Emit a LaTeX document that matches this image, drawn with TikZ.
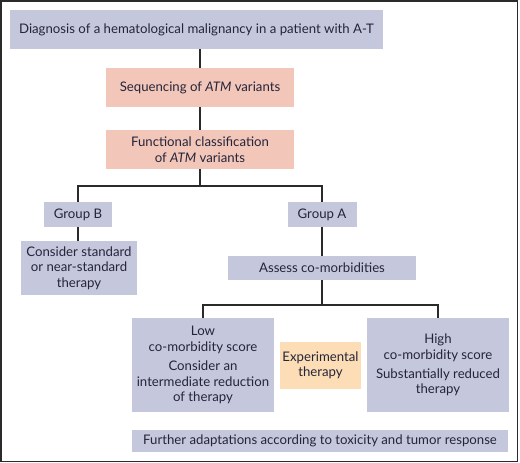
\documentclass[tikz,border=0pt]{standalone}
\usepackage{fontspec}
\setmainfont{Lato}
\definecolor{bluebox}{HTML}{C5C7DD}
\definecolor{salmon}{HTML}{F2C6B9}
\definecolor{orangebox}{HTML}{FCDDB6}
\definecolor{txt}{HTML}{25253A}
\definecolor{linec}{HTML}{2A2A2A}
\tikzset{
  x=1pt,y=-1pt,
  bx/.style={fill=bluebox,draw=none,inner sep=0pt,align=center,text=txt,font=\fontsize{13.2}{15.4}\selectfont},
  sx/.style={bx,fill=salmon},
  ox/.style={bx,fill=orangebox},
  conn/.style={draw=linec,line width=1.6pt},
}
\begin{document}
\begin{tikzpicture}
\useasboundingbox (0,0) rectangle (520,463);
\draw[draw=linec,line width=1.2pt] (1,1) rectangle (517.5,461.5);
\node[bx,minimum width=373pt,minimum height=39pt] (diag) at (196.5,29.5) {Diagnosis of a hematological malignancy in a patient with A-T};
\node[sx,minimum width=188pt,minimum height=39pt] (seq) at (200,87.5) {Sequencing of \textit{ATM} variants};
\node[sx,minimum width=188pt,minimum height=39pt] (func) at (200,149.5) {Functional classification\\of \textit{ATM} variants};
\node[bx,minimum width=68pt,minimum height=25pt] (gb) at (78,214.5) {Group B};
\node[bx,minimum width=116pt,minimum height=54pt] (cons) at (79,268) {Consider standard\\or near-standard\\therapy};
\node[bx,minimum width=69pt,minimum height=25pt] (ga) at (322,214.5) {Group A};
\node[bx,minimum width=188pt,minimum height=24pt] (assess) at (322,268) {Assess co-morbidities};
\node[bx,minimum width=142pt,minimum height=94pt] (low) at (203,365) {Low\\co-morbidity score\\[4pt]Consider an\\intermediate reduction\\of therapy};
\node[ox,minimum width=81pt,minimum height=47pt] (exp) at (320.5,365.5) {Experimental\\therapy};
\node[bx,minimum width=142pt,minimum height=94pt] (high) at (438,365) {High\\co-morbidity score\\[4pt]Substantially reduced\\therapy};
\node[bx,minimum width=376pt,minimum height=22pt] (fur) at (320,441) {Further adaptations according to toxicity and tumor response};
\coordinate (b1) at (200,186);
\coordinate (b2) at (322,305);
\draw[conn] (diag.south -| seq.north) -- (seq.north);
\draw[conn] (seq) -- (func);
\draw[conn] (func.south) -- (b1);
\draw[conn] (gb.north) |- (b1) -| (ga.north);
\draw[conn] (gb) -- (gb |- cons.north);
\draw[conn] (ga) -- (assess);
\draw[conn] (assess.south) -- (b2);
\draw[conn] (low.north) |- (b2) -| (high.north);
\end{tikzpicture}
\end{document}
